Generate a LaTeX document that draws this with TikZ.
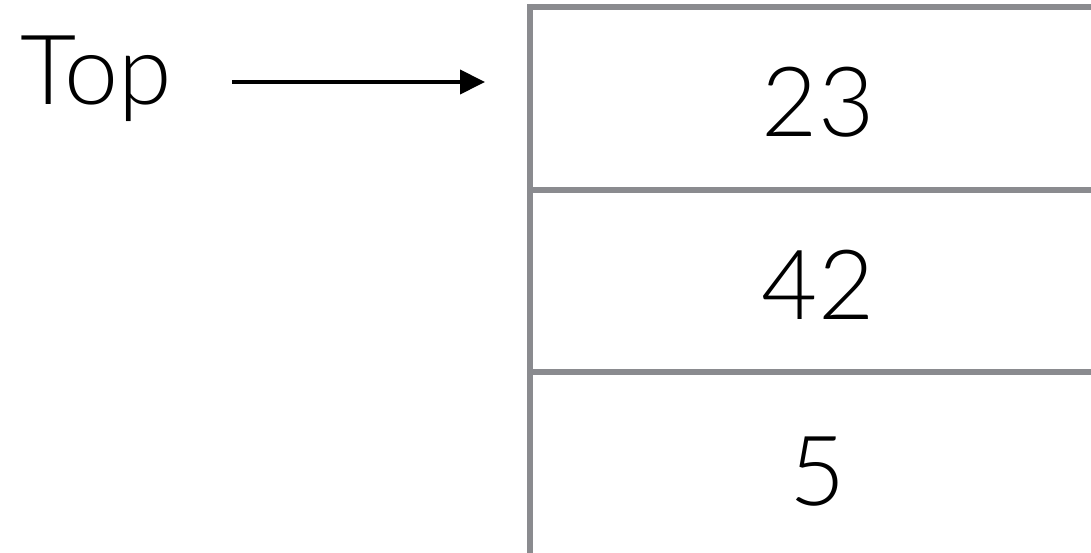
\documentclass[tikz,border=0pt]{standalone}
\usepackage{fontspec}
\setmainfont{Lato}[UprightFont=* Light]
\usetikzlibrary{arrows.meta}
\definecolor{stackgray}{RGB}{138,139,143}
\tikzset{
  cell/.style={draw=stackgray, line width=6pt, minimum width=576pt, inner sep=0pt,
    font=\fontsize{97}{100}\selectfont, text height=76pt, text depth=0pt},
  pointer/.style={line width=4pt, -{Triangle[length=25pt,width=24pt]}},
  lbl/.style={inner sep=0pt, font=\fontsize{97}{100}\selectfont}
}
\begin{document}
\begin{tikzpicture}[x=1pt,y=1pt]
\useasboundingbox (0,0) rectangle (1091,552);
\clip (0,0) rectangle (1091,552);
\fill[white] (0,0) rectangle (1091,552);
\node[cell, minimum height=182.5pt] (c1) at (818,453.25) {23};
\node[cell, minimum height=182pt] (c2) at (818,271) {42};
\node[cell, minimum height=190pt] (c3) at (818,85) {5};
\node[lbl, anchor=base west] (top) at (20,447) {Top};
\coordinate (ptrstart) at (232,470);
\draw[pointer] (ptrstart) -- ([xshift=-42pt]c1.west |- ptrstart);
\end{tikzpicture}
\end{document}
